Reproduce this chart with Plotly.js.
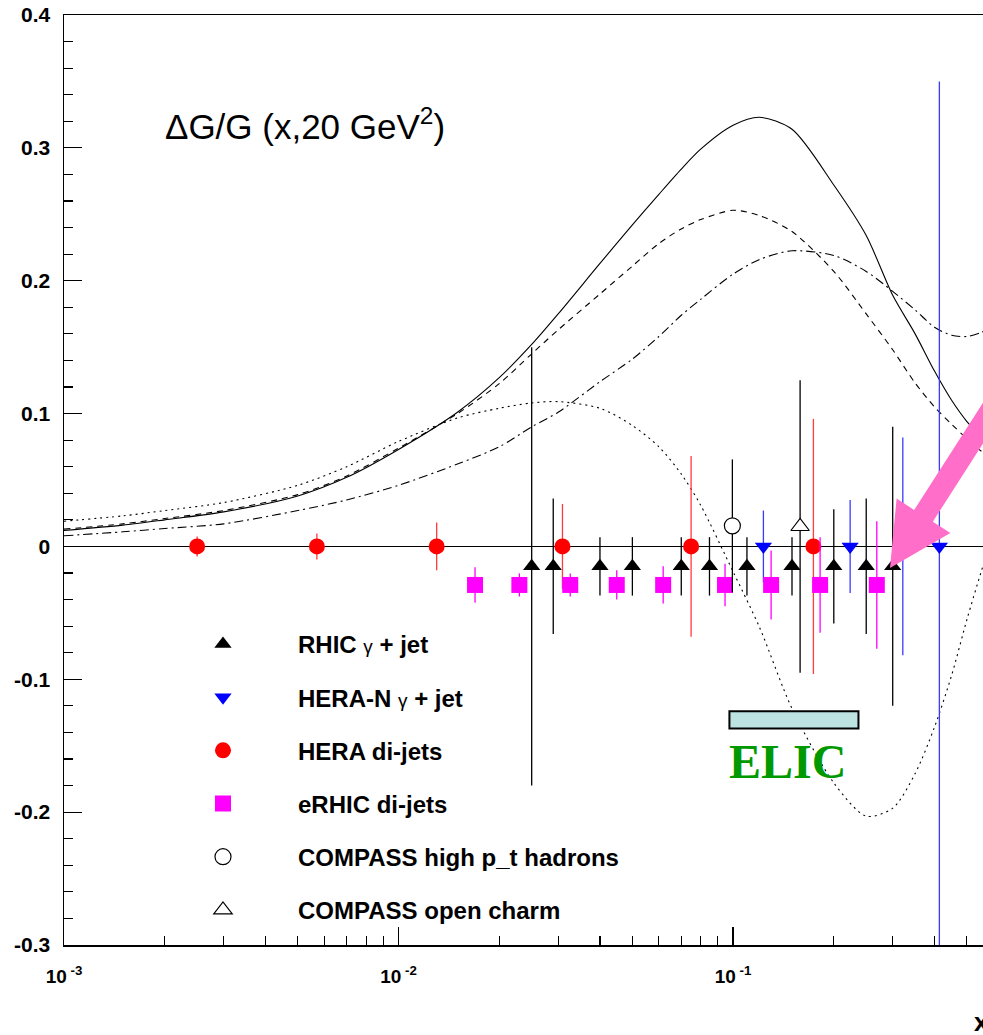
<!DOCTYPE html>
<html><head><meta charset="utf-8">
<script src="https://cdn.plot.ly/plotly-3.0.1.min.js"></script>
<style>html,body{margin:0;padding:0;background:#fff}</style>
</head><body><div id="chart" style="width:983px;height:1035px"></div>
<script>
// ---- theory curves (x, ΔG/G) ----
const curveX   = [0.001,0.0015,0.002,0.003,0.005,0.007,0.01,0.015,0.02,0.025,0.03,0.04,0.05,0.06,0.07,0.08,0.1,0.12,0.15,0.2,0.25,0.3,0.35,0.4,0.45,0.5,0.55,0.6];
const solidY   = [0.012,0.016,0.020,0.026,0.038,0.052,0.073,0.101,0.127,0.152,0.175,0.213,0.242,0.265,0.284,0.299,0.317,0.323,0.314,0.272,0.234,0.189,0.160,0.132,0.110,0.094,0.083,0.075];
const dashedY  = [0.013,0.017,0.021,0.027,0.039,0.053,0.074,0.100,0.1225,0.145,0.163,0.190,0.211,0.228,0.239,0.246,0.253,0.249,0.237,0.207,0.175,0.148,0.123,0.105,0.092,0.081,0.072,0.065];
const dashDotY = [0.008,0.011,0.0135,0.017,0.027,0.035,0.046,0.062,0.075,0.090,0.101,0.124,0.141,0.158,0.174,0.186,0.205,0.216,0.2225,0.219,0.207,0.192,0.178,0.165,0.159,0.158,0.161,0.165];
const dottedY  = [0.019,0.023,0.027,0.033,0.046,0.060,0.079,0.0967,0.104,0.108,0.109,0.104,0.091,0.075,0.0545,0.031,-0.019,-0.061,-0.122,-0.178,-0.203,-0.197,-0.171,-0.136,-0.097,-0.055,-0.020,0.010];

// ---- data points ----
const rhicX   = [0.025,0.029,0.040,0.050,0.070,0.085,0.110,0.150,0.200,0.250,0.300];
const rhicY   = [-0.015,-0.015,-0.015,-0.015,-0.015,-0.015,-0.015,-0.015,-0.015,-0.015,-0.015];
const rhicErr = [0.165,0.051,0.022,0.022,0.022,0.022,0.022,0.022,0.043,0.051,0.105];

const heraNX   = [0.1232,0.2238,0.3216,0.4136];
const heraNY   = [0,0,0,0];
const heraNErr = [0.027,0.035,0.082,0.35];

const heraDX   = [0.0025,0.0057,0.0130,0.0309,0.0749,0.1738];
const heraDY   = [0,0,0,0,0,0];
const heraDErr = [0.0075,0.0098,0.018,0.032,0.068,0.096];

const erhicX   = [0.01693,0.02297,0.0326,0.0449,0.0618,0.0946,0.1299,0.182,0.2689];
const erhicY   = [-0.029,-0.029,-0.029,-0.029,-0.029,-0.029,-0.029,-0.029,-0.029];
const erhicErr = [0.0134,0.0087,0.0087,0.011,0.014,0.016,0.026,0.036,0.048];

const compHX = [0.0995], compHY = [0.0155], compHErr = [0.05];
const compCX = [0.1586], compCY = [0.015],  compCErr = [0.11];

const elicRange = [0.0975, 0.237];
const elicBand  = [-0.137, -0.124];

const legendNames = [
  'RHIC <span style="font-size:19px;font-weight:normal">γ</span> + jet',
  'HERA-N <span style="font-size:19px;font-weight:normal">γ</span> + jet',
  'HERA di-jets',
  'eRHIC di-jets',
  'COMPASS high p_t hadrons',
  'COMPASS open charm'
];
const xTickVals = [0.001,0.01,0.1];
const xTickText = ['10<sup>\u00a0-3</sup>','10<sup>\u00a0-2</sup>','10<sup>\u00a0-1</sup>'];
const yTickVals = [-0.3,-0.2,-0.1,0,0.1,0.2,0.3,0.4];
const yTickText = ['-0.3','-0.2','-0.1','0','0.1','0.2','0.3','0.4'];

const minorX = [];
for (let e = -3; e <= -1; e++) for (let m = 2; m <= 9; m++) minorX.push(m * Math.pow(10, e));

function curve(y, dash) {
  return {x: curveX, y: y, mode:'lines', type:'scatter', showlegend:false, hoverinfo:'skip',
          line:{color:'black', width:1.1, dash:dash, shape:'spline', smoothing:0.8}};
}
function pts(x, y, err, name, sym, mcol, ecol, lcol, size, grp) {
  return {x:x, y:y, type:'scatter', mode:'markers', name:name, legendgroup:grp,
    marker:{symbol:sym, color:mcol, size:size, line:{color:lcol, width: (lcol ? 1.2 : 0)}},
    error_y:{type:'data', array:err, visible:true, color:ecol, thickness:1.3, width:0}};
}

const traces = [
  curve(solidY, 'solid'),
  curve(dashedY, '6px,5px'),
  curve(dashDotY, '9px,4px,2px,4px'),
  curve(dottedY, '2px,4px'),
  pts(rhicX, rhicY, rhicErr, legendNames[0], 'triangle-up', 'black', 'black', null, 15, 'g1'),
  pts(heraNX, heraNY, heraNErr, legendNames[1], 'triangle-down', '#0000ff', '#3b3bff', null, 15, 'g2'),
  pts(heraDX, heraDY, heraDErr, legendNames[2], 'circle', '#ff0000', '#ff3b3b', null, 16, 'g3'),
  pts(erhicX, erhicY, erhicErr, legendNames[3], 'square', '#ff00ff', '#ff00ff', null, 16, 'g4'),
  pts(compHX, compHY, compHErr, legendNames[4], 'circle', 'white', 'black', 'black', 16, 'g5'),
  pts(compCX, compCY, compCErr, legendNames[5], 'triangle-up', 'white', 'black', 'black', 16, 'g6')
];

// arrow outline in paper coordinates
const arrowPath = 'M0.8988,0.4054 L0.9645,0.4429 L0.9454,0.4552 L1.0629,0.6362 L1.0427,0.6489 L0.9251,0.4678 L0.906,0.4801 Z';

const xFont = {family:'Liberation Sans, Arial, sans-serif', size:19, color:'black', weight:'bold'};
const yFont = {family:'Liberation Sans, Arial, sans-serif', size:21, color:'black', weight:'bold'};

const layout = {
  width:983, height:1035,
  margin:{l:64, r:0, t:15, b:90},
  paper_bgcolor:'white', plot_bgcolor:'white',
  showlegend:true,
  legend:{x:0.0914, y:0.3475, xanchor:'left', yanchor:'top', bgcolor:'rgba(0,0,0,0)', borderwidth:0,
          font:{family:'Liberation Sans, Arial, sans-serif', size:24, color:'black', weight:'bold'},
          itemwidth:140, tracegroupgap:19, itemsizing:'trace', traceorder:'grouped'},
  xaxis:{type:'log', range:[-3, -0.253], showgrid:false, zeroline:false,
         showline:true, linecolor:'black', linewidth:1.5, mirror:true,
         ticks:'inside', ticklen:18, tickwidth:1.2, tickcolor:'black',
         tickmode:'array', tickvals:xTickVals, ticktext:xTickText, tickfont:xFont, ticklabelstandoff:14,
         minor:{ticks:'inside', ticklen:9, tickwidth:1.1, tickcolor:'black', tickmode:'array', tickvals:minorX, showgrid:false}},
  yaxis:{range:[-0.3, 0.4], showgrid:false, zeroline:true, zerolinecolor:'black', zerolinewidth:1.2,
         showline:true, linecolor:'black', linewidth:1.5,
         ticks:'inside', ticklen:18, tickwidth:1.2, tickcolor:'black',
         tickmode:'array', tickvals:yTickVals, ticktext:yTickText, tickfont:yFont, ticklabelstandoff:8,
         minor:{ticks:'inside', ticklen:9, tickwidth:1.1, tickcolor:'black', dtick:0.02, tick0:0, showgrid:false}},
  shapes:[
    {type:'rect', xref:'x', yref:'y', x0:elicRange[0], x1:elicRange[1], y0:elicBand[0], y1:elicBand[1],
     fillcolor:'#bde2e2', line:{color:'black', width:2}, layer:'above'},
    {type:'path', xref:'paper', yref:'paper', path:arrowPath, fillcolor:'#ff6ec8', line:{width:0}, layer:'above'}
  ],
  annotations:[
    {xref:'paper', yref:'paper', x:(163-64)/919, y:(945-124)/930, xanchor:'left', yanchor:'middle', showarrow:false,
     text:'ΔG/G (x,20 GeV<sup>2</sup>)', font:{family:'Liberation Sans, Arial, sans-serif', size:35, color:'black'}},
    {xref:'paper', yref:'paper', x:(727-64)/919, y:(945-761)/930, xanchor:'left', yanchor:'middle', showarrow:false,
     text:'ELIC', font:{family:'Liberation Serif, Times New Roman, serif', size:48, color:'#009900', weight:'bold'}},
    {xref:'paper', yref:'paper', x:(972-64)/919, y:(945-1022)/930, xanchor:'left', yanchor:'middle', showarrow:false,
     text:'x', font:{family:'Liberation Sans, Arial, sans-serif', size:26, color:'black', weight:'bold'}}
  ]
};

Plotly.newPlot('chart', traces, layout, {displayModeBar:false, staticPlot:true});
</script>
</body></html>
